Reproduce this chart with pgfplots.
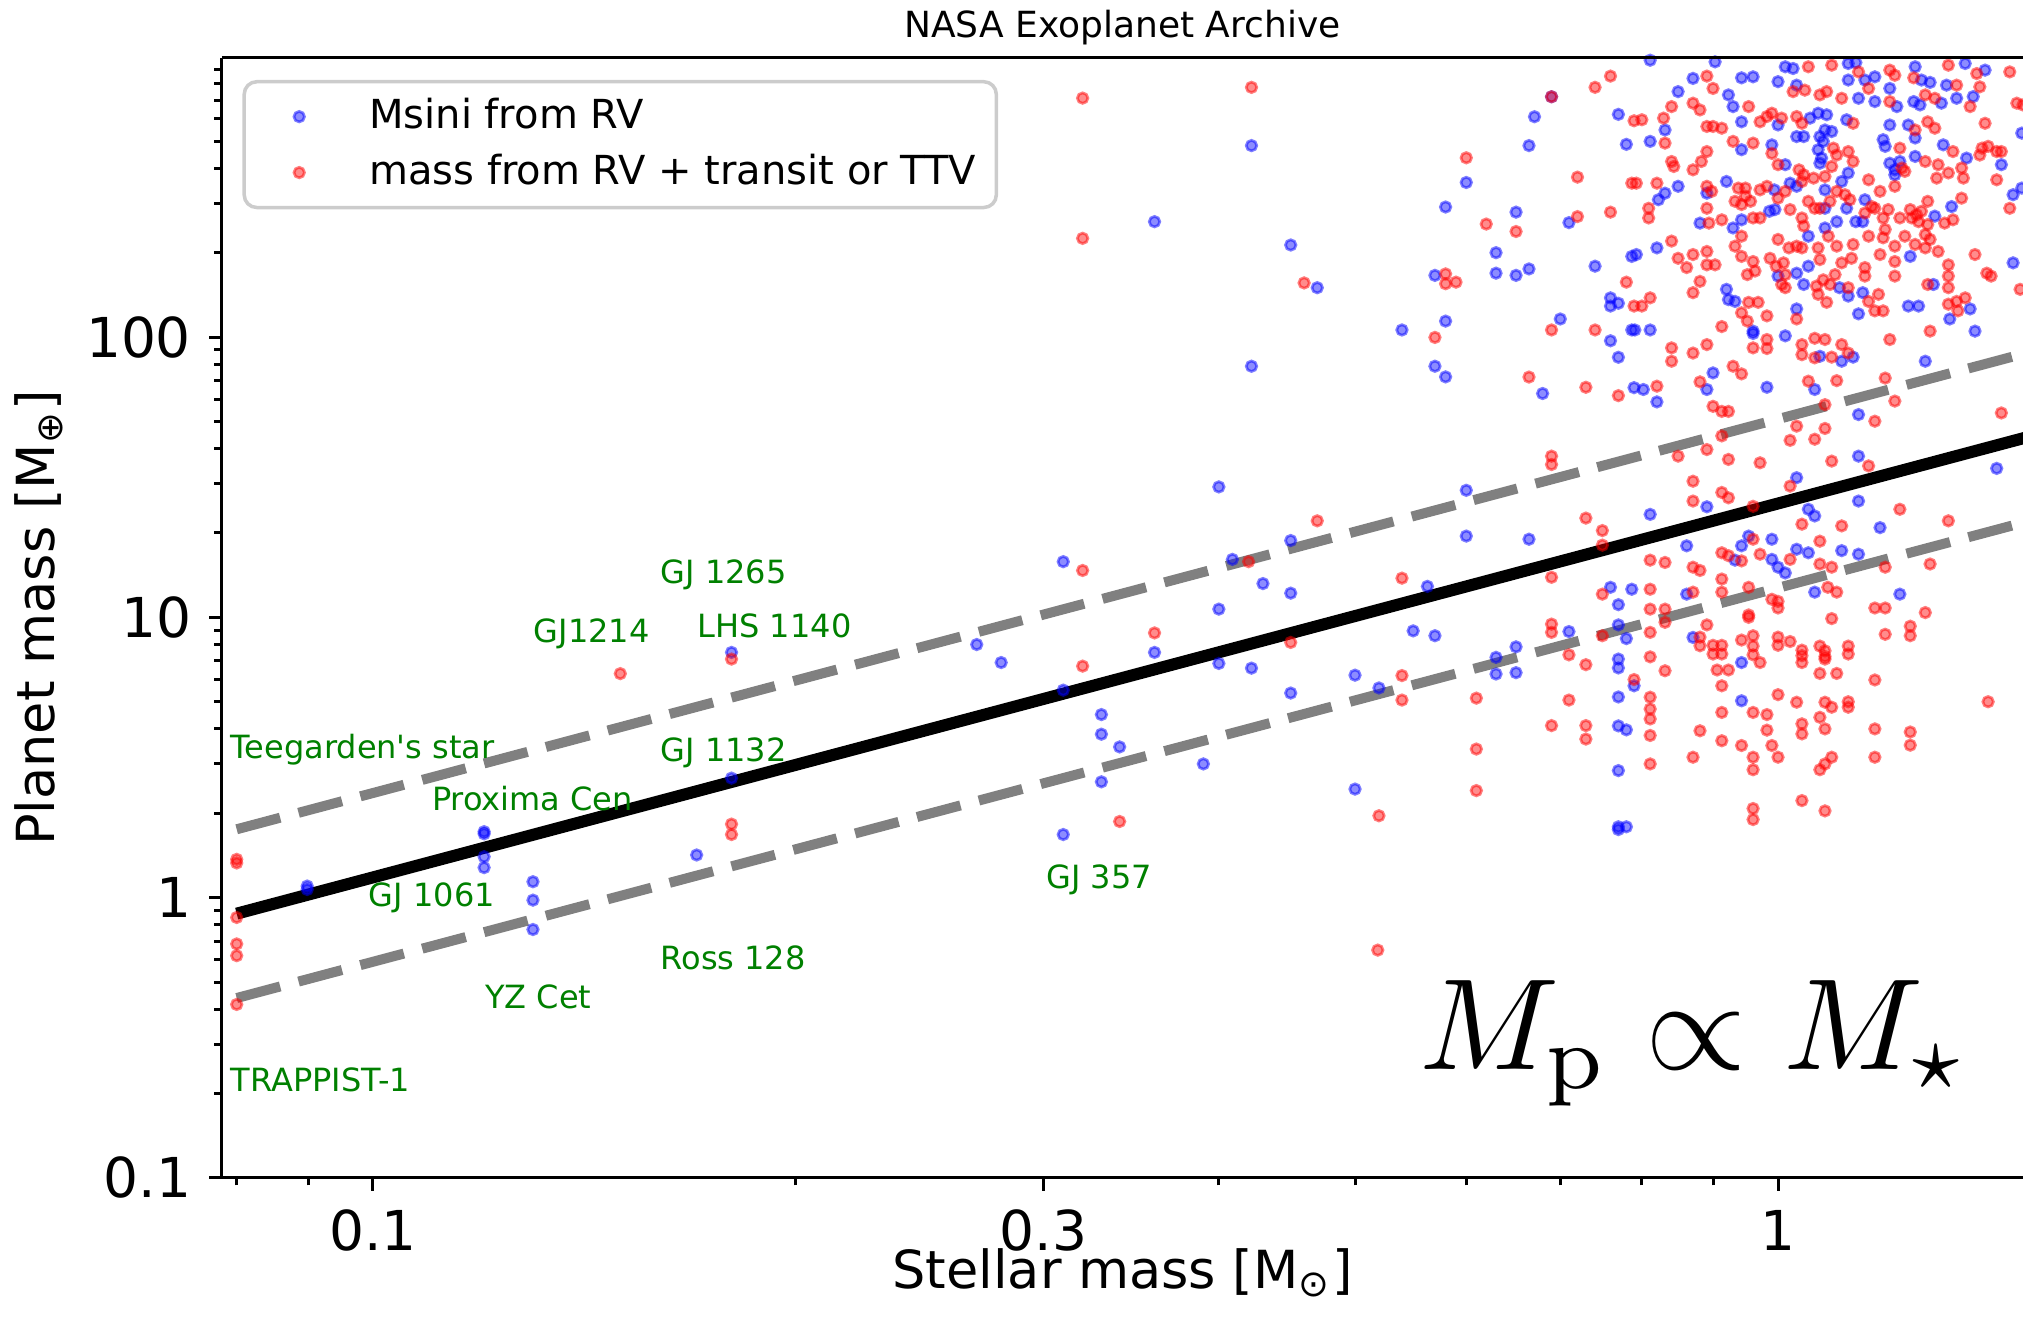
\documentclass[border=0pt]{standalone}
\usepackage[no-math]{fontspec}
\setmainfont{DejaVu Sans}
\usepackage{graphicx}
\usepackage{pgfplots}
\pgfplotsset{compat=1.18}
\definecolor{mplgreen}{rgb}{0,0.5,0}
\definecolor{legedge}{gray}{0.8}

\pgfplotstableread{
x y
0.0898 1.10
0.0898 1.07
0.120 1.72
0.120 1.69
0.120 1.40
0.120 1.28
0.130 1.14
0.130 0.98
0.130 0.77
0.170 1.42
0.180 7.5
0.180 2.67
0.269 8.0
0.280 6.9
0.310 15.8
0.310 5.5
0.310 1.68
0.330 4.5
0.330 3.83
0.330 2.59
0.340 3.45
0.360 7.5
0.360 258
0.390 3.0
0.400 29.2
0.400 10.7
0.409 16.1
0.400 6.85
0.422 482
0.600 356
0.580 291
0.450 213
0.470 150
0.570 166
0.580 114
0.651 279
0.630 200
0.630 169
0.651 166
0.665 175
0.671 611
0.665 482
0.690 720
0.770 623
0.780 487
0.710 256
0.787 194
0.741 179
0.760 138
0.770 132
0.760 129
0.700 116
0.787 106
0.540 106
0.422 78.7
0.570 78.7
0.580 72.1
0.760 97
0.770 84.7
0.680 62.9
0.790 66
0.600 28.4
0.450 18.8
0.600 19.5
0.665 19.0
0.563 12.9
0.430 13.2
0.450 12.2
0.760 12.8
0.787 12.6
0.422 6.59
0.450 5.37
0.500 6.22
0.520 5.6
0.550 8.95
0.570 8.6
0.500 2.44
0.630 7.2
0.630 6.28
0.651 7.85
0.651 6.35
0.710 8.9
0.770 11.1
0.770 9.4
0.780 8.4
0.770 7.1
0.770 6.6
0.790 5.7
0.770 5.2
0.770 4.1
0.780 3.97
0.770 2.84
0.770 1.79
0.780 1.79
0.770 1.75
0.870 8.48
0.942 6.9
0.942 5.04
0.791 106
0.811 106
0.960 105
0.960 103
0.899 74.5
0.802 65
0.820 58.7
0.890 65
0.982 66.2
1.012 101
1.071 85.4
1.110 82
1.131 84.8
1.062 65
1.273 82
1.381 105
1.141 52.9
1.141 37.6
1.431 34.0
1.031 31.5
0.890 24.8
1.051 24.3
1.062 23.0
1.141 26.0
1.182 20.9
0.811 23.3
0.861 18.0
0.942 18.0
0.953 19.5
0.932 16.0
0.990 19.0
0.990 16.1
1.000 15.1
1.012 14.4
1.031 17.5
1.051 17.0
1.110 17.3
1.141 16.8
1.062 12.3
1.221 12.1
0.861 12.1
0.902 959
0.811 972
0.870 837
0.942 841
0.960 848
1.000 815
1.012 921
1.025 908
1.122 946
1.136 953
1.122 826
1.153 826
1.172 848
1.252 921
1.265 826
1.283 810
1.318 792
1.359 946
1.404 896
0.849 751
1.031 792
1.141 711
1.172 692
1.201 771
1.215 664
1.249 692
1.262 673
1.307 683
1.340 711
1.377 721
0.831 548
0.922 731
0.929 664
0.942 586
1.000 571
1.054 604
1.068 629
1.083 621
1.080 548
1.092 541
1.071 519
1.077 499
1.119 596
0.811 499
0.990 485
1.031 519
1.043 519
1.068 466
1.201 571
1.238 571
1.188 506
1.192 479
1.252 513
1.311 485
1.491 534
0.942 466
1.012 412
1.071 417
1.074 435
1.122 385
1.110 359
1.031 345
1.020 354
0.994 335
0.919 359
0.890 326
0.849 345
0.831 326
0.822 309
1.080 288
1.080 335
1.119 288
1.153 309
1.201 417
1.211 395
1.211 379
1.221 423
1.252 441
1.362 435
1.442 412
1.470 322
1.491 340
1.293 270
1.329 292
0.880 255
0.929 245
0.942 262
0.986 281
0.995 285
1.101 258
1.136 258
1.149 258
1.051 229
1.080 245
0.820 208
0.793 197
1.242 194
1.470 184
1.051 179
1.031 169
1.000 165
1.043 154
1.106 150
1.122 140
1.149 144
0.919 148
0.922 136
0.932 134
1.031 126
1.141 121
1.238 129
1.259 129
1.290 154
1.370 126
1.325 116
}\bluedata

\pgfplotstableread{
x y
0.080 1.37
0.080 1.33
0.080 0.85
0.080 0.684
0.080 0.621
0.080 0.416
0.150 6.30
0.180 7.1
0.180 1.83
0.180 1.68
0.320 712
0.320 225
0.320 14.7
0.320 6.7
0.340 1.87
0.360 8.8
0.420 15.8
0.519 0.65
0.422 778
0.600 436
0.460 156
0.580 168
0.580 155
0.590 157
0.620 253
0.651 238
0.690 720
0.741 778
0.760 853
0.790 591
0.720 372
0.787 354
0.720 269
0.760 279
0.780 157
0.790 129
0.690 106
0.741 106
0.570 99.7
0.665 72
0.730 66.2
0.770 61.8
0.690 37.6
0.690 35.1
0.470 22.1
0.730 22.6
0.750 20.4
0.750 18.1
0.690 13.9
0.540 13.8
0.750 12.1
0.450 8.14
0.540 6.2
0.540 5.07
0.610 5.15
0.610 3.39
0.610 2.41
0.520 1.96
0.690 9.46
0.690 8.84
0.710 7.35
0.730 6.78
0.710 5.07
0.690 4.11
0.730 4.11
0.730 3.68
0.750 8.6
0.790 6.0
0.811 10.7
0.831 10.7
0.831 9.6
0.890 9.4
0.811 8.84
0.880 8.5
0.880 7.92
0.899 7.95
0.912 7.95
0.899 7.4
0.912 7.4
0.942 8.3
0.960 8.6
0.960 7.9
0.960 7.35
0.971 6.9
0.905 6.49
0.922 6.49
0.811 7.23
0.831 6.45
0.912 5.7
1.000 8.5
1.000 7.95
1.020 8.2
1.040 7.64
1.040 7.3
1.040 6.9
1.071 7.9
1.080 7.6
1.080 7.25
1.080 7.1
1.071 6.31
1.101 6.31
1.122 7.9
1.122 7.4
1.172 5.98
1.000 5.3
1.031 4.98
1.080 4.98
1.092 4.78
1.122 5.0
1.122 4.78
0.811 5.19
0.811 4.71
0.811 4.34
0.811 3.79
0.811 3.0
0.912 4.58
0.960 4.58
0.982 4.5
0.880 3.94
0.982 3.96
0.912 3.63
0.942 3.49
0.990 3.49
0.870 3.17
0.960 3.17
1.000 3.17
0.960 2.86
1.040 4.17
1.040 3.84
1.071 4.4
1.080 4.0
1.092 3.17
1.080 3.0
1.071 2.86
1.172 4.0
1.172 3.17
1.242 9.3
1.242 8.6
1.192 8.7
1.172 10.8
1.192 10.8
1.273 10.4
1.242 3.9
1.242 3.5
1.411 5.0
1.040 2.22
1.080 2.04
0.960 2.08
0.960 1.90
1.092 9.9
1.000 11.4
1.000 10.8
0.990 11.6
0.953 10.2
0.953 10.0
0.840 91.5
0.840 82
0.870 87.7
0.890 94
0.820 66.8
0.880 69.2
0.929 78.7
0.942 73.9
0.960 91.5
0.982 98
0.982 91
1.040 94
1.040 86.5
1.062 99
1.080 98
1.062 84.3
1.092 84.8
1.110 94
1.122 87.7
1.051 69.6
1.101 69.9
1.201 98
1.192 71.4
1.283 105
0.899 56.6
0.912 54.3
0.922 54.3
1.080 57.4
1.172 50.1
1.211 59.1
1.442 53.6
0.912 44.4
1.031 48.1
1.020 42.8
1.062 43.2
1.080 47.2
0.849 37.6
0.890 39.7
0.922 36.6
0.971 35.6
1.092 36.1
1.160 34.7
0.870 30.6
0.870 26.0
0.912 27.9
0.922 26.7
0.960 24.9
1.020 29.4
1.040 21.5
1.110 21.2
1.221 24.3
1.322 22.1
0.912 17.0
0.922 16.6
0.960 19.0
0.942 15.9
0.971 16.8
1.020 16.1
1.071 18.7
1.071 15.5
1.092 15.1
1.192 15.1
1.283 15.5
0.811 16.0
0.831 15.7
0.870 15.1
0.880 14.7
0.912 13.7
0.953 12.8
0.811 12.6
0.870 12.3
0.912 12.3
1.085 12.8
1.101 12.3
0.890 853
1.051 921
1.092 933
1.141 883
1.201 896
1.211 859
1.249 841
1.322 933
1.340 792
1.385 871
1.392 781
1.462 883
0.899 771
1.045 760
1.025 751
1.071 731
1.083 751
1.110 711
1.160 771
1.201 692
1.273 731
1.293 711
1.370 664
1.479 683
0.800 596
0.829 604
0.840 664
0.870 683
0.880 646
0.953 664
0.971 586
0.982 612
0.990 629
1.006 604
1.031 612
1.040 579
1.131 579
0.890 564
0.899 564
0.912 556
0.831 492
0.929 499
0.960 492
1.095 472
1.122 459
1.221 472
1.252 548
1.278 586
1.293 556
1.332 459
1.404 579
1.397 472
1.411 479
1.431 459
1.442 459
1.494 673
0.840 423
0.843 406
0.870 395
0.882 423
0.890 459
0.990 452
1.000 412
1.035 395
1.043 379
1.092 406
1.101 446
1.131 423
1.080 374
1.060 369
1.040 359
0.982 345
0.971 335
0.948 340
0.937 340
0.890 345
0.897 331
0.820 354
0.793 354
0.809 288
0.809 266
0.890 288
0.932 305
0.942 297
0.956 305
0.948 318
1.000 313
1.012 331
1.051 305
1.062 288
1.089 305
1.101 331
1.116 322
1.125 309
1.160 364
1.182 331
1.211 345
1.225 401
1.231 390
1.273 423
1.300 412
1.297 369
1.322 385
1.351 401
1.355 369
1.392 446
1.431 364
1.462 288
1.166 292
1.198 285
1.242 285
1.255 273
1.265 281
1.278 305
1.351 313
0.893 255
0.912 262
0.960 266
0.971 266
1.020 285
1.040 266
1.043 249
1.071 288
1.153 277
1.172 288
1.188 266
1.192 242
1.221 266
1.245 266
1.259 258
1.278 252
1.314 255
1.332 262
0.942 229
0.932 211
0.942 194
1.000 223
1.018 208
1.031 211
1.068 208
1.086 229
1.101 211
1.131 214
1.160 229
1.188 226
1.211 211
1.231 229
1.252 214
1.273 232
1.283 223
0.840 220
0.849 191
0.861 177
0.870 197
0.890 202
0.890 181
0.902 181
1.273 208
1.300 202
1.182 197
1.381 197
0.960 186
0.951 167
0.963 172
0.987 191
0.997 179
1.009 184
1.012 167
1.040 208
1.006 154
1.012 150
1.071 189
1.065 152
1.077 160
1.098 167
1.089 154
1.110 184
1.128 191
1.122 150
1.153 177
1.153 165
1.179 142
1.211 186
1.211 165
0.880 158
0.870 144
0.953 133
0.968 133
0.942 122
0.951 114
0.982 119
1.031 116
1.083 133
1.068 142
1.160 134
1.172 124
1.188 124
1.278 154
1.322 181
1.322 165
1.322 150
1.340 134
1.359 138
1.322 131
1.343 124
1.408 169
1.418 165
1.487 148
0.800 129
0.811 138
0.912 109
}\reddata

\pgfplotsset{
  mylegimg/.style={legend image code/.code={\path[draw=none,fill=none] (0pt,-1pt) rectangle (14pt,1pt); \draw[mark repeat=2,mark phase=2,##1] plot coordinates {(0pt,0pt) (8pt,0pt) (14pt,0pt)};}},
}

\begin{document}
\begin{tikzpicture}
\useasboundingbox (-44.4pt,-30.8pt) rectangle (360.2pt,235.6pt);
\clip (-44.4pt,-30.8pt) rectangle (360.2pt,235.6pt);
\begin{axis}[
  at={(0pt,0pt)}, anchor=south west,
  scale only axis, width=360.2pt, height=224pt,
  xmode=log, ymode=log,
  xmin=0.0781, xmax=1.494, ymin=0.1, ymax=990,
  axis lines*=left,
  axis line style={line width=0.6pt},
  xtick={0.1,0.3,1}, xticklabels={0.1,0.3,1},
  minor xtick={0.08,0.09,0.2,0.4,0.5,0.6,0.7,0.8,0.9},
  ytick={0.1,1,10,100}, yticklabels={0.1,1,10,100},
  minor ytick={0.2,0.3,0.4,0.5,0.6,0.7,0.8,0.9,2,3,4,5,6,7,8,9,20,30,40,50,60,70,80,90,200,300,400,500,600,700,800,900},
  tick align=outside,
  major tick length=2.6pt, minor tick length=1.5pt,
  tick style={black, line width=0.6pt},
  ticklabel style={font=\fontsize{11}{13}\selectfont, inner sep=1pt},
  xticklabel style={anchor=center, yshift=-7.9pt},
  yticklabel style={anchor=east, xshift=-2.4pt},
  every axis title shift=0pt,
  title={NASA Exoplanet Archive},
  title style={font=\fontsize{7.2}{8.5}\selectfont, at={(0.5,1)}, anchor=base, yshift=4.1pt},
  xlabel={Stellar mass [M\textsubscript{⊙}]},
  xlabel style={font=\fontsize{10.5}{12}\selectfont, inner sep=0.5pt, at={(axis description cs:0.5,-0.0985)}, anchor=base},
  ylabel={Planet mass [M\textsubscript{⊕}]},
  ylabel style={font=\fontsize{10.5}{12}\selectfont, at={(axis description cs:-0.1016,0.5)}, anchor=center},
  legend cell align=left,
  legend style={at={(axis description cs:0,1)}, anchor=north west, xshift=4.1pt, yshift=-4.4pt,
    draw=legedge, line width=0.7pt, rounded corners=2.5pt, fill=white,
    font=\fontsize{8}{9.6}\selectfont, inner xsep=3pt, inner ysep=2.2pt, row sep=1.6pt,
    nodes={inner sep=1pt}, /tikz/every odd column/.append style={column sep=7pt}},
]
\addplot[forget plot, black, line width=2.4pt] coordinates {(0.08,0.877) (1.6,47.7)};
\addplot[forget plot, gray, line width=2pt, dash pattern=on 9pt off 3.8pt] coordinates {(0.08,1.754) (1.6,95.4)};
\addplot[forget plot, gray, line width=2pt, dash pattern=on 9pt off 3.8pt] coordinates {(0.08,0.4385) (1.6,23.85)};
\addplot[only marks, mylegimg, mark=*, mark size=1.05pt, mark options={solid, draw=blue, fill=blue, draw opacity=0.5, fill opacity=0.45, line width=0.55pt}] table {\bluedata};
\addlegendentry{Msini from RV}
\addplot[only marks, mylegimg, mark=*, mark size=1.05pt, mark options={solid, draw=red, fill=red, draw opacity=0.5, fill opacity=0.45, line width=0.55pt}] table {\reddata};
\addlegendentry{mass from RV + transit or TTV}
\begin{scope}[every node/.style={anchor=west, inner sep=0pt, text=mplgreen, font=\fontsize{6.4}{7.5}\selectfont}]
\node at (axis cs:0.0791,3.38) {Teegarden\textquotesingle s star};
\node at (axis cs:0.160,14.2) {GJ 1265};
\node at (axis cs:0.130,8.75) {GJ1214};
\node at (axis cs:0.170,9.3) {LHS 1140};
\node at (axis cs:0.160,3.30) {GJ 1132};
\node at (axis cs:0.110,2.26) {Proxima Cen};
\node at (axis cs:0.0992,1.0) {GJ 1061};
\node at (axis cs:0.120,0.443) {YZ Cet};
\node at (axis cs:0.160,0.608) {Ross 128};
\node at (axis cs:0.0791,0.223) {TRAPPIST-1};
\node at (axis cs:0.301,1.16) {GJ 357};
\end{scope}
\node[anchor=base west, inner sep=0pt] at (axis cs:0.555,0.244) {\scalebox{2.6}{$M_{\mathrm{p}} \propto M_{\star}$}};
\coordinate (tl) at (rel axis cs:0,1);
\coordinate (tr) at (rel axis cs:1,1);
\end{axis}
\draw[line width=0.6pt] (tl) -- (tr);
\end{tikzpicture}
\end{document}
